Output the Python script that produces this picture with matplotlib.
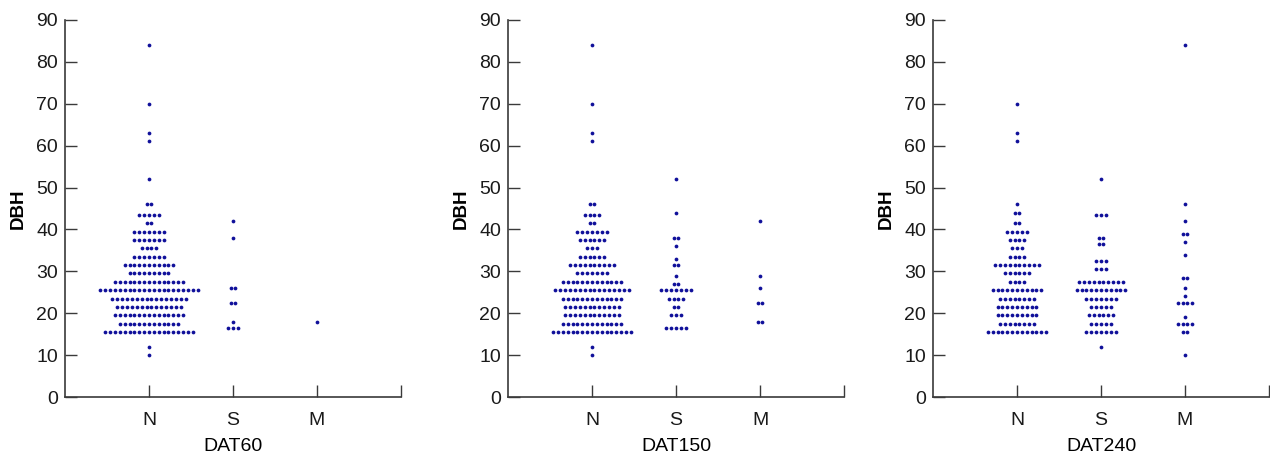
import numpy as np
import matplotlib
matplotlib.use("Agg")
import matplotlib.pyplot as plt

plt.rcParams["font.family"] = ["Liberation Sans", "DejaVu Sans"]

GROUPS = ["N", "S", "M"]
PANELS = ["DAT60", "DAT150", "DAT240"]

# DBH classes and number of trees in each class, per date and group
dat60_n_dbh = [84, 70, 63, 61, 52, 46, 43.5, 41.5, 39.5, 37.5, 35.5, 33.5, 31.5, 29.5,
               27.5, 25.5, 23.5, 21.5, 19.5, 17.5, 15.5, 12, 10]
dat60_n_cnt = [1, 1, 1, 1, 1, 2, 5, 2, 7, 7, 4, 7, 11, 9, 15, 21, 16, 14, 15, 13, 19, 1, 1]
dat60_s_dbh = [42, 38, 26, 22.5, 18, 16.5]
dat60_s_cnt = [1, 1, 2, 2, 1, 3]
dat60_m_dbh = [18]
dat60_m_cnt = [1]

dat150_n_dbh = [84, 70, 63, 61, 46, 43.5, 41.5, 39.5, 37.5, 35.5, 33.5, 31.5, 29.5,
                27.5, 25.5, 23.5, 21.5, 19.5, 17.5, 15.5, 12, 10]
dat150_n_cnt = [1, 1, 1, 1, 2, 4, 2, 7, 6, 3, 6, 10, 7, 13, 16, 13, 12, 12, 13, 17, 1, 1]
dat150_s_dbh = [52, 44, 38, 36, 33, 31.5, 29, 27, 25.5, 23.5, 21.5, 19.5, 16.5]
dat150_s_cnt = [1, 1, 2, 1, 1, 2, 1, 2, 7, 4, 2, 3, 5]
dat150_m_dbh = [42, 29, 26, 22.5, 18]
dat150_m_cnt = [1, 1, 1, 2, 2]

dat240_n_dbh = [70, 63, 61, 46, 44, 41.5, 39.5, 37.5, 35.5, 33.5, 31.5, 29.5, 27.5,
                25.5, 23.5, 21.5, 19.5, 17.5, 15.5]
dat240_n_cnt = [1, 1, 1, 1, 2, 2, 5, 4, 3, 4, 10, 6, 4, 11, 8, 9, 9, 8, 13]
dat240_s_dbh = [52, 43.5, 38, 36.5, 32.5, 30.5, 27.5, 25.5, 23.5, 21.5, 19.5, 17.5, 15.5, 12]
dat240_s_cnt = [1, 3, 2, 2, 3, 3, 10, 11, 7, 5, 6, 5, 7, 1]
dat240_m_dbh = [84, 46, 42, 39, 37, 34, 28.5, 26, 24, 22.5, 19, 17.5, 15.5, 10]
dat240_m_cnt = [1, 1, 1, 2, 1, 1, 2, 1, 1, 4, 1, 4, 2, 1]

DATA = {
    "DAT60": [(dat60_n_dbh, dat60_n_cnt), (dat60_s_dbh, dat60_s_cnt), (dat60_m_dbh, dat60_m_cnt)],
    "DAT150": [(dat150_n_dbh, dat150_n_cnt), (dat150_s_dbh, dat150_s_cnt), (dat150_m_dbh, dat150_m_cnt)],
    "DAT240": [(dat240_n_dbh, dat240_n_cnt), (dat240_s_dbh, dat240_s_cnt), (dat240_m_dbh, dat240_m_cnt)],
}

DOT = "#10109a"
AXIS = "#3a3a3a"
STEP = 0.058  # horizontal spacing between dots in a row (x units)


def spread(center, dbh, cnt):
    xs, ys = [], []
    for v, n in zip(dbh, cnt):
        off = (np.arange(n) - (n - 1) / 2) * STEP
        xs.extend(center + off)
        ys.extend([v] * n)
    return np.array(xs), np.array(ys)


fig = plt.figure(figsize=(12.7, 4.57), dpi=100)
lefts = [65 / 1270, 508 / 1270, 933 / 1270]
for left, name in zip(lefts, PANELS):
    ax = fig.add_axes([left, 60 / 457, 336 / 1270, 377 / 457])
    for i, (dbh, cnt) in enumerate(DATA[name]):
        x, y = spread(i + 1, dbh, cnt)
        ax.plot(x, y, "o", color=DOT, markersize=2.7, markeredgewidth=0)
    ax.set_xlim(0, 4)
    ax.set_ylim(0, 90)
    ax.set_yticks(range(0, 91, 10))
    ax.set_xticks([1, 2, 3, 4])
    ax.set_xticklabels(GROUPS + [""])
    for s in ["top", "right"]:
        ax.spines[s].set_visible(False)
    for s in ["left", "bottom"]:
        ax.spines[s].set_color(AXIS)
        ax.spines[s].set_linewidth(1.2)
    ax.tick_params(direction="in", length=8.5, width=1.0, color=AXIS,
                   labelsize=14, labelcolor="#1a1a1a", pad=5)
    ax.tick_params(axis="x", pad=11)
    ax.set_ylabel("DBH", fontsize=13.5, fontweight="bold", labelpad=7)
    ax.set_xlabel(name, fontsize=14, labelpad=6)

fig.savefig("out.png", dpi=100, facecolor="white")
